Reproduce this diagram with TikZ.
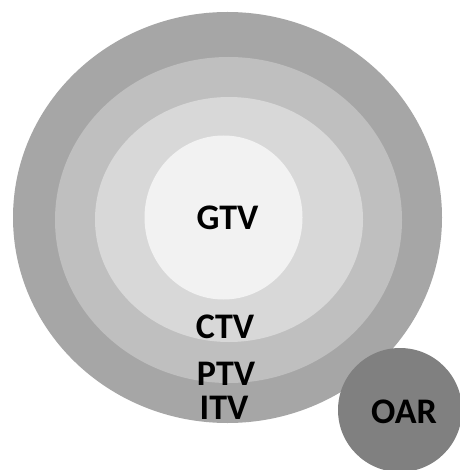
\documentclass[tikz,border=0pt]{standalone}
\usepackage{fontspec}
\setmainfont{Carlito}
\definecolor{itvgray}{RGB}{166,166,166}
\definecolor{ptvgray}{RGB}{191,191,191}
\definecolor{ctvgray}{RGB}{216,216,216}
\definecolor{gtvgray}{RGB}{242,242,242}
\definecolor{oargray}{RGB}{128,128,128}
\begin{document}
\begin{tikzpicture}[x=1pt,y=-1pt,
  lbl/.style={font=\bfseries\fontsize{36}{40}\selectfont, text=black, inner sep=0pt, anchor=center}]
\useasboundingbox (0,0) rectangle (459,470);
\fill[white] (0,0) rectangle (459,470);
% nested target volumes
\fill[itvgray] (227.5,217.5) ellipse [x radius=214.5, y radius=205.5];
\fill[ptvgray] (228.5,220) ellipse [x radius=173.5, y radius=163];
\fill[ctvgray] (229,219.5) ellipse [x radius=134, y radius=122.5];
\fill[gtvgray] (223.5,217.5) ellipse [x radius=79, y radius=82];
% organ at risk
\fill[oargray] (400,410) circle [radius=62];
% labels
\node[lbl] (gtv) at (227.5,218) {GTV};
\node[lbl] (ctv) at (225,327) {CTV};
\node[lbl] (ptv) at (226,374) {PTV};
\node[lbl] (itv) at (224,407.5) {ITV};
\node[lbl] (oar) at (404,411.5) {OAR};
\end{tikzpicture}
\end{document}
